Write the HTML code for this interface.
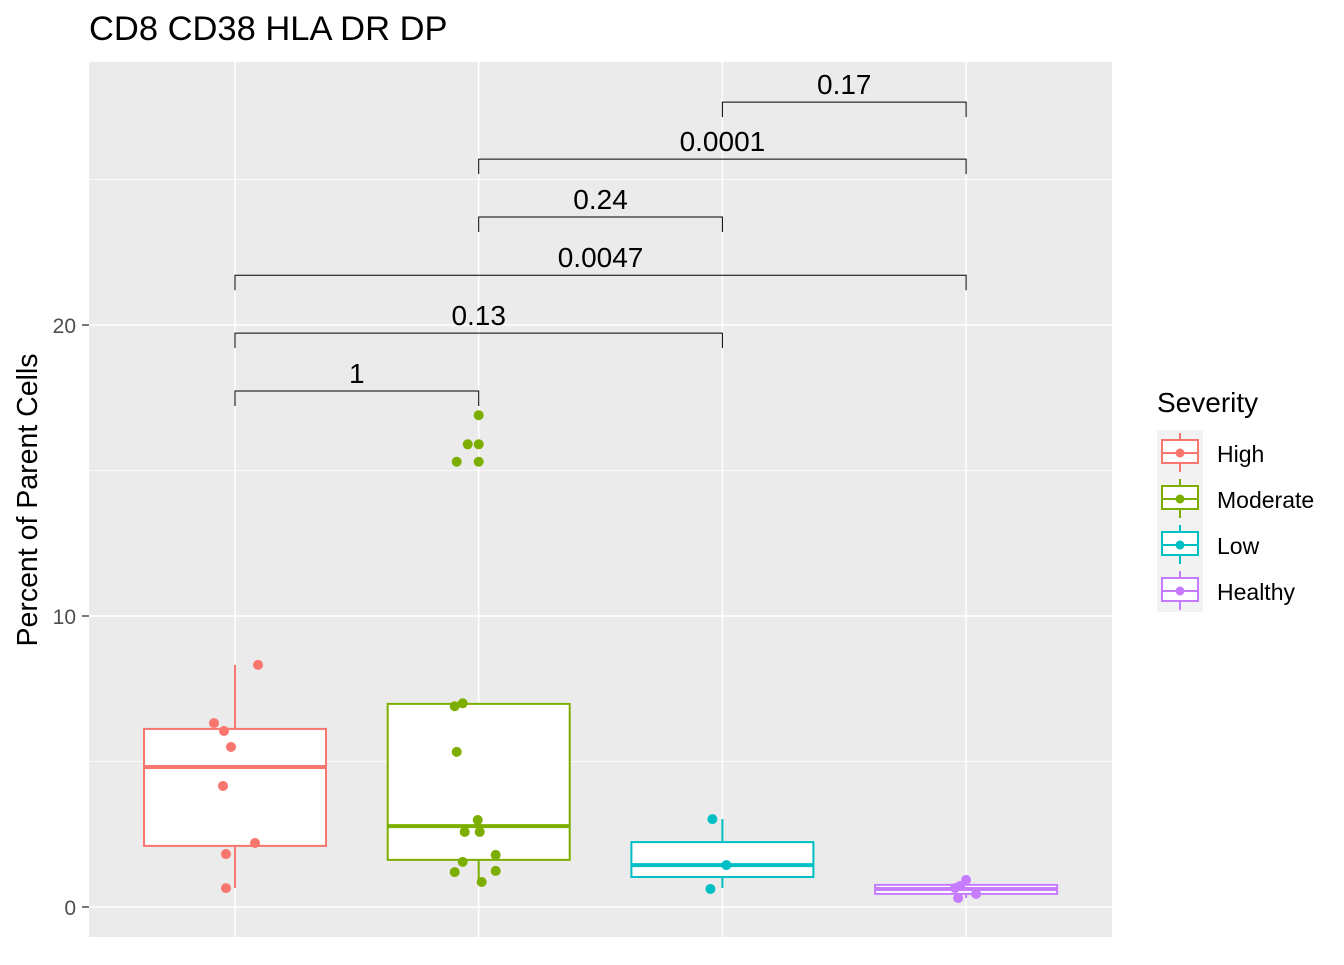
<!DOCTYPE html>
<html><head><meta charset="utf-8"><style>
body{margin:0;background:#fff;font-family:"Liberation Sans",Arial,sans-serif}
</style></head><body>
<svg id="chart" width="1344" height="960" xmlns="http://www.w3.org/2000/svg" font-family="Liberation Sans, Arial, sans-serif">
<text x="89" y="40" font-size="34.5">CD8 CD38 HLA DR DP</text>
<rect x="89" y="62" width="1023" height="875" fill="#ebebeb"/>
<g id="grid"></g>
<g id="boxes"></g>
<g id="points"></g>
<g id="brackets"></g>
<g id="yaxis"></g>
<text transform="translate(37,500) rotate(-90)" text-anchor="middle" font-size="28.5">Percent of Parent Cells</text>
<text x="1157" y="412" font-size="28">Severity</text>
<g id="legend"></g>
</svg>
<script>
const categories=["High","Moderate","Low","Healthy"];
const colors=["#F8766D","#7CAE00","#00BFC4","#C77CFF"];
const q1=[2.10,1.62,1.03,0.45];
const medians=[4.81,2.78,1.44,0.62];
const q3=[6.12,6.98,2.23,0.76];
const whiskLo=[0.65,0.86,0.65,0.31];
const whiskHi=[8.32,6.98,3.02,0.93];
const ptGroup=[0,0,0,0,0,0,0,0,1,1,1,1,1,1,1,1,1,1,1,1,1,1,1,1,2,2,2,3,3,3,3,3];
const ptValue=[8.32,6.32,6.05,5.50,4.16,2.20,1.82,0.65,16.9,15.9,15.9,15.3,15.3,6.9,7.0,5.33,2.99,2.58,2.58,1.79,1.55,1.20,1.24,0.86,3.02,1.44,0.62,0.93,0.72,0.31,0.45,0.65];
const ptJitter=[23,-21,-11,-4,-12,20,-9,-9,0,-11,0,-22,0,-24,-16,-22,-1,-14,1,17,-16,-24,17,3,-10,4,-12,0,-6,-8,10,-11];
const brFrom=[0,0,0,1,1,2];
const brTo=[1,2,3,2,3,3];
const brY=[17.73,19.72,21.71,23.71,25.70,27.66];
const brLabel=["1","0.13","0.0047","0.24","0.0001","0.17"];
const yTicks=[0,10,20];
const yMinor=[5,15,25];
const y=v=>907-29.1*v;
const x=i=>235+243.7*i;
const NS="http://www.w3.org/2000/svg";
function mk(p,t,a){const e=document.createElementNS(NS,t);for(const k in a)e.setAttribute(k,a[k]);p.appendChild(e);return e;}
const G=id=>document.getElementById(id);
yMinor.forEach(v=>{const l=mk(G('grid'),'line',{x1:89,x2:1112,y1:y(v),y2:y(v),stroke:'#fff','stroke-width':0.7});

});
yTicks.forEach(v=>{const l=mk(G('grid'),'line',{x1:89,x2:1112,y1:y(v),y2:y(v),stroke:'#fff','stroke-width':1.5});


const t=mk(G('yaxis'),'line',{x1:82,x2:89,y1:y(v),y2:y(v),stroke:'#333','stroke-width':1.3});


const tx=mk(G('yaxis'),'text',{x:76,y:y(v)+8,'text-anchor':'end','font-size':21,fill:'#4d4d4d'});tx.textContent=v;

});
categories.forEach((c,i)=>{const l=mk(G('grid'),'line',{x1:x(i),x2:x(i),y1:62,y2:937,stroke:'#fff','stroke-width':1.5});


const g=mk(G('boxes'),'g',{stroke:colors[i],'stroke-width':2,fill:'#fff'});


mk(g,'line',{x1:x(i),x2:x(i),y1:y(whiskHi[i]),y2:y(q3[i])});
mk(g,'line',{x1:x(i),x2:x(i),y1:y(q1[i]),y2:y(whiskLo[i])});
mk(g,'rect',{x:x(i)-91,width:182,y:y(q3[i]),height:y(q1[i])-y(q3[i])});
mk(g,'line',{x1:x(i)-91,x2:x(i)+91,y1:y(medians[i]),y2:y(medians[i]),'stroke-width':4});});
ptValue.forEach((v,k)=>{const c=mk(G('points'),'circle',{cx:x(ptGroup[k])+ptJitter[k],cy:y(v),r:5,fill:colors[ptGroup[k]]});

});
brY.forEach((v,k)=>{const a=x(brFrom[k]),b=x(brTo[k]),yy=y(v);
const p=mk(G('brackets'),'path',{d:`M${a},${yy+15}V${yy}H${b}V${yy+15}`,fill:'none',stroke:'#000','stroke-width':1});


const t=mk(G('brackets'),'text',{x:(a+b)/2,y:yy-8,'text-anchor':'middle','font-size':28});t.textContent=brLabel[k];

});
mk(G('legend'),'rect',{x:1157,y:430,width:46,height:182,fill:'#f2f2f2'});
categories.forEach((c,i)=>{const cy=453+46*i;const g=mk(G('legend'),'g',{stroke:colors[i],'stroke-width':2,fill:'none'});


mk(g,'line',{x1:1180,x2:1180,y1:cy-20,y2:cy+19});
mk(g,'rect',{x:1162,y:cy-13,width:36,height:23,fill:'#fff'});
mk(g,'line',{x1:1162,x2:1198,y1:cy,y2:cy});
mk(g,'circle',{cx:1180,cy:cy,r:4.5,fill:colors[i],stroke:'none'});
const t=mk(G('legend'),'text',{x:1217,y:cy+9,'font-size':23});t.textContent=c;

});
</script>
</body></html>
